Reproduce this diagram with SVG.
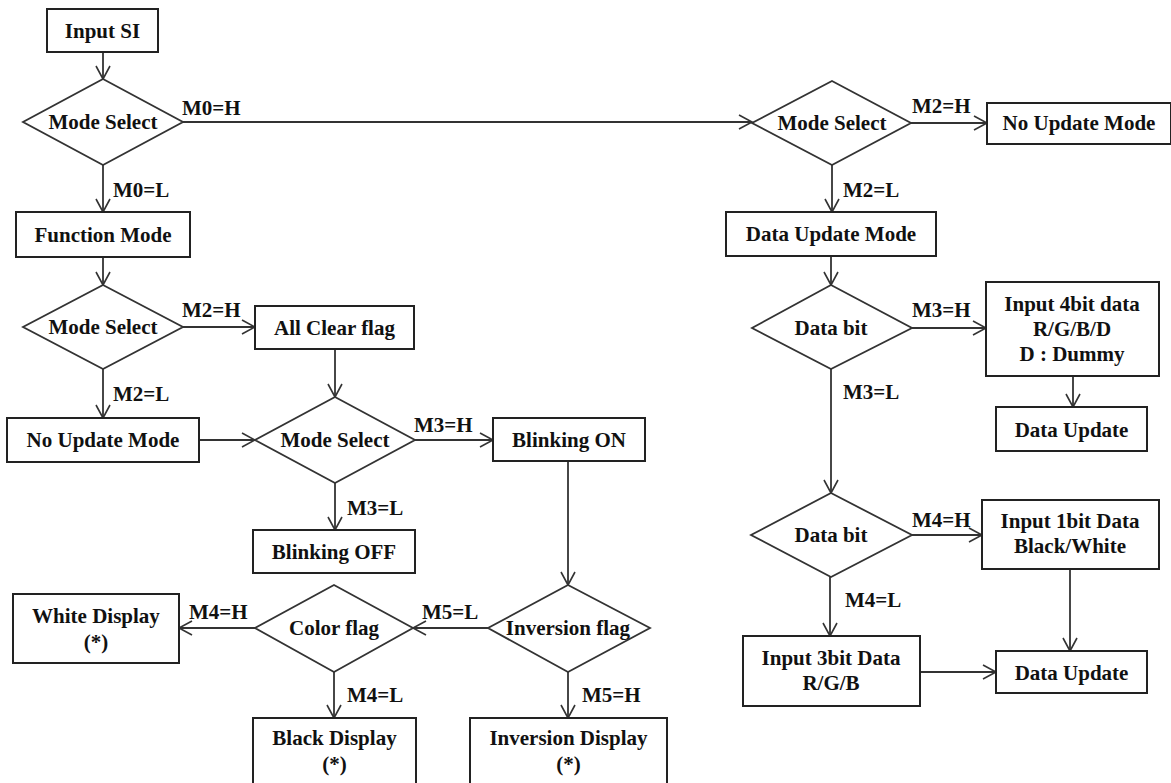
<svg xmlns="http://www.w3.org/2000/svg" width="1171" height="783" viewBox="0 0 1171 783">
<defs>
<marker id="arr" markerWidth="20" markerHeight="20" refX="14" refY="8" orient="auto" markerUnits="userSpaceOnUse">
<path d="M1,1 L14,8 L1,15" fill="none" stroke="#333" stroke-width="1.6"/>
</marker>
</defs>
<style>
.box{fill:#fff;stroke:#222;stroke-width:2}
.dia{fill:#fff;stroke:#333;stroke-width:1.8}
.t{font-family:"Liberation Serif","Times New Roman",serif;font-weight:bold;font-size:21px;fill:#111;text-anchor:middle}
.lb{font-family:"Liberation Serif","Times New Roman",serif;font-weight:bold;font-size:21px;fill:#111}
.c{fill:none;stroke:#333;stroke-width:1.8;marker-end:url(#arr)}
</style>
<rect width="1171" height="783" fill="#fff"/>

<g id="connectors">
<path class="c" d="M103,52 V79"/>
<path class="c" d="M183,122 H752"/>
<path class="c" d="M103,165 V212"/>
<path class="c" d="M103,257 V285"/>
<path class="c" d="M183,327 H255"/>
<path class="c" d="M103,369 V418"/>
<path class="c" d="M335,349 V397"/>
<path class="c" d="M199,440 H255"/>
<path class="c" d="M415,440 H493"/>
<path class="c" d="M335,483 V530"/>
<path class="c" d="M568,461 V585"/>
<path class="c" d="M488,628 H413"/>
<path class="c" d="M568,672 V718"/>
<path class="c" d="M255,628 H179"/>
<path class="c" d="M334,672 V718"/>
<path class="c" d="M911,123 H987"/>
<path class="c" d="M832,165 V212"/>
<path class="c" d="M831,256 V285"/>
<path class="c" d="M912,328 H986"/>
<path class="c" d="M1073,376 V407"/>
<path class="c" d="M831,369 V493"/>
<path class="c" d="M912,535 H982"/>
<path class="c" d="M830,577 V636"/>
<path class="c" d="M1070,569 V651"/>
<path class="c" d="M920,672 H996"/>
<text class="lb" x="182" y="115">M0=H</text>
<text class="lb" x="113" y="197">M0=L</text>
<text class="lb" x="182" y="317">M2=H</text>
<text class="lb" x="113" y="401">M2=L</text>
<text class="lb" x="414" y="432">M3=H</text>
<text class="lb" x="347" y="515">M3=L</text>
<text class="lb" x="422" y="619">M5=L</text>
<text class="lb" x="582" y="702">M5=H</text>
<text class="lb" x="189" y="619">M4=H</text>
<text class="lb" x="347" y="702">M4=L</text>
<text class="lb" x="912" y="113">M2=H</text>
<text class="lb" x="843" y="197">M2=L</text>
<text class="lb" x="912" y="317">M3=H</text>
<text class="lb" x="843" y="399">M3=L</text>
<text class="lb" x="912" y="527">M4=H</text>
<text class="lb" x="845" y="607">M4=L</text>
</g>

<g id="input-si"><rect class="box" x="47" y="9" width="111" height="43"/><text class="t" x="102.5" y="38">Input SI</text></g>
<g id="mode-select-1"><polygon class="dia" points="103,79 183,122 103,165 23,122"/><text class="t" x="103" y="129">Mode Select</text></g>
<g id="function-mode"><rect class="box" x="16" y="212" width="174" height="45"/><text class="t" x="103" y="242">Function Mode</text></g>
<g id="mode-select-2"><polygon class="dia" points="103,285 183,327 103,369 23,327"/><text class="t" x="103" y="334">Mode Select</text></g>
<g id="all-clear"><rect class="box" x="255" y="306" width="159" height="43"/><text class="t" x="334.5" y="335">All Clear flag</text></g>
<g id="no-update-left"><rect class="box" x="7" y="418" width="192" height="44"/><text class="t" x="103" y="447">No Update Mode</text></g>
<g id="mode-select-3"><polygon class="dia" points="335,397 415,440 335,483 255,440"/><text class="t" x="335" y="447">Mode Select</text></g>
<g id="blinking-on"><rect class="box" x="493" y="418" width="152" height="43"/><text class="t" x="569" y="447">Blinking ON</text></g>
<g id="blinking-off"><rect class="box" x="253" y="530" width="162" height="43"/><text class="t" x="334" y="559">Blinking OFF</text></g>
<g id="inversion-flag"><polygon class="dia" points="568,585 650,628 568,672 488,628"/><text class="t" x="568" y="635">Inversion flag</text></g>
<g id="color-flag"><polygon class="dia" points="334,585 413,628 334,672 255,628"/><text class="t" x="334" y="635">Color flag</text></g>
<g id="white-display"><rect class="box" x="13" y="594" width="166" height="69"/><text class="t" x="96" y="623">White Display</text><text class="t" x="96" y="649">(*)</text></g>
<g id="black-display"><rect class="box" x="253" y="718" width="163" height="80"/><text class="t" x="334.5" y="745">Black Display</text><text class="t" x="334.5" y="771">(*)</text></g>
<g id="inversion-display"><rect class="box" x="470" y="718" width="197" height="80"/><text class="t" x="568.5" y="745">Inversion Display</text><text class="t" x="568.5" y="771">(*)</text></g>
<g id="mode-select-right"><polygon class="dia" points="832,81 911,123 832,165 752,123"/><text class="t" x="832" y="130">Mode Select</text></g>
<g id="no-update-right"><rect class="box" x="987" y="103" width="184" height="41"/><text class="t" x="1079" y="130">No Update Mode</text></g>
<g id="data-update-mode"><rect class="box" x="726" y="212" width="210" height="44"/><text class="t" x="831" y="241">Data Update Mode</text></g>
<g id="data-bit-1"><polygon class="dia" points="831,285 912,328 831,369 752,328"/><text class="t" x="831" y="335">Data bit</text></g>
<g id="input-4bit"><rect class="box" x="986" y="282" width="173" height="94"/><text class="t" x="1072" y="311">Input 4bit data</text><text class="t" x="1072" y="336">R/G/B/D</text><text class="t" x="1072" y="361">D : Dummy</text></g>
<g id="data-update-1"><rect class="box" x="996" y="407" width="151" height="44"/><text class="t" x="1071.5" y="437">Data Update</text></g>
<g id="data-bit-2"><polygon class="dia" points="831,493 912,535 831,577 751,535"/><text class="t" x="831" y="542">Data bit</text></g>
<g id="input-1bit"><rect class="box" x="982" y="500" width="177" height="69"/><text class="t" x="1070" y="528">Input 1bit Data</text><text class="t" x="1070" y="553">Black/White</text></g>
<g id="input-3bit"><rect class="box" x="743" y="636" width="177" height="70"/><text class="t" x="831" y="665">Input 3bit Data</text><text class="t" x="831" y="690">R/G/B</text></g>
<g id="data-update-2"><rect class="box" x="996" y="651" width="151" height="42"/><text class="t" x="1071.5" y="680">Data Update</text></g>
</svg>
